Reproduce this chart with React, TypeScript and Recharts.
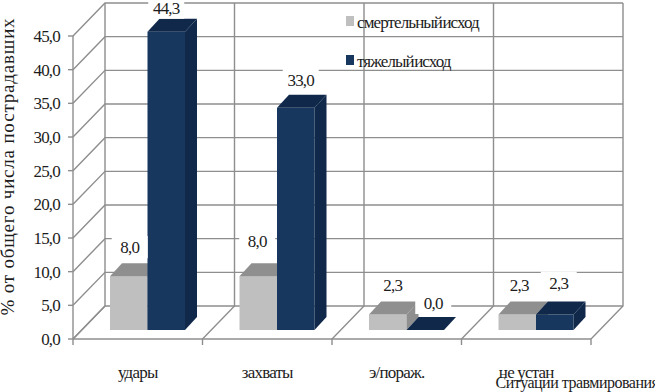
import React from "react";
import { BarChart, Bar, XAxis, YAxis, CartesianGrid, Legend, LabelList } from "recharts";

const categories = ["удары", "захваты", "э/пораж.", "не устан"];
const fatal = [8.0, 8.0, 2.3, 2.3];
const severe = [44.3, 33.0, 0.0, 2.3];
const yTicks = [0, 5, 10, 15, 20, 25, 30, 35, 40, 45];
const fatalName = "смертельный исход";
const severeName = "тяжелый исход";
const xTitle = "Ситуации травмирования";
const yTitle = "% от общего числа пострадавших";

const data = categories.map((c, i) => ({ c, fatal: fatal[i], severe: severe[i] }));

const FONT = "'Liberation Serif', serif";
const GRID = "#8e8e8e";
const TEXT = "#1c1c1c";
const WALL_DX = 32;
const WALL_DY = -33;
const BAR_DX = 10;
const BAR_DY = -9;
const DEPTH_X = 12;
const DEPTH_Y = -13;

const fmt = (v: number) => v.toFixed(1).replace(".", ",");

const HLine = (p: any) => (
  <polyline
    points={`${p.x1},${p.y1} ${p.x1 + WALL_DX},${p.y1 + WALL_DY} ${p.x2 + WALL_DX},${p.y2 + WALL_DY}`}
    fill="none"
    stroke={GRID}
    strokeWidth={1.4}
  />
);

const VLine = (p: any) => (
  <g stroke={GRID} strokeWidth={1.4} fill="none">
    <polyline
      points={`${p.x1},${p.y2 + 6} ${p.x1},${p.y2} ${p.x1 + WALL_DX},${p.y2 + WALL_DY} ${p.x1 + WALL_DX},${p.y1 + WALL_DY}`}
    />
  </g>
);

const box = (front: string, top: string, side: string) => (p: any) => {
  const x = p.x + BAR_DX;
  const y = p.y + BAR_DY;
  const w = p.width;
  const h = p.height;
  return (
    <g>
      {h > 0 && <rect x={x} y={y} width={w} height={h} fill={front} />}
      <polygon
        points={`${x},${y} ${x + DEPTH_X},${y + DEPTH_Y} ${x + w + DEPTH_X},${y + DEPTH_Y} ${x + w},${y}`}
        fill={top}
      />
      {h > 0 && (
        <polygon
          points={`${x + w},${y} ${x + w + DEPTH_X},${y + DEPTH_Y} ${x + w + DEPTH_X},${y + h + DEPTH_Y} ${x + w},${y + h}`}
          fill={side}
        />
      )}
    </g>
  );
};

const fatalNudge = [
  [1, -29],
  [-1, -35],
  [5, -30],
  [2, -30],
];
const severeNudge = [
  [0, -24],
  [5, -28],
  [8, -27],
  [4, -32],
];

const valueLabel = (nudge: number[][]) => (p: any) => {
  const [nx, ny] = nudge[p.index];
  const cx = p.x + BAR_DX + p.width / 2 + nx;
  const cy = p.y + BAR_DY + ny;
  return (
    <g>
      <rect x={cx - 18} y={cy - 11} width={36} height={22} fill="#fff" />
      <text x={cx} y={cy + 6} textAnchor="middle" fontFamily={FONT} fontSize={17} letterSpacing={-0.8} fill={TEXT}>
        {fmt(p.value)}
      </text>
    </g>
  );
};

const legendRows = (props: any) => (
  <div style={{ fontFamily: FONT, fontSize: 17, letterSpacing: -0.9, color: TEXT, lineHeight: "18px" }}>
    {(props.payload || []).map((e: any, i: number) => (
      <div key={i} style={{ position: "absolute", left: 0, top: i * 39, whiteSpace: "nowrap" }}>
        <span
          style={{
            position: "absolute",
            left: 0,
            top: 2,
            width: 8,
            height: 10,
            background: e.color,
          }}
        />
        <span style={{ position: "absolute", left: 11, top: 0, wordSpacing: -3 }}>{e.value}</span>
      </div>
    ))}
  </div>
);

const boxFatal = box("#bfbfbf", "#8f8f8f", "#8f8f8f");
const boxSevere = box("#17375e", "#10294b", "#10294b");

const tickStyle = { fontFamily: FONT, fontSize: 17, letterSpacing: -0.8, fill: TEXT };

export default function App() {
  return (
    <div style={{ position: "absolute", left: 0, top: 0, width: 655, height: 392, overflow: "hidden" }}>
      <BarChart
        width={655}
        height={392}
        data={data}
        margin={{ top: 36, right: 64, bottom: 0, left: 0 }}
        barCategoryGap="42%"
        barGap={0}
      >
        <CartesianGrid
          horizontal={(p: any) => <HLine key={p.key} {...p} />}
          vertical={(p: any) => <VLine key={p.key} {...p} />}
          verticalCoordinatesGenerator={({ offset }: any) =>
            [0, 1, 2, 3, 4].map((i) => offset.left + (offset.width * i) / categories.length)
          }
        />
        <XAxis
          dataKey="c"
          height={53}
          axisLine={{ stroke: GRID, strokeWidth: 1.4 }}
          tickLine={false}
          tickMargin={21}
          tick={tickStyle}
          label={{
            value: xTitle,
            position: "insideBottom",
            dx: 245,
            dy: 1,
            style: { fontFamily: FONT, fontSize: 16, letterSpacing: -0.5, fill: TEXT },
          }}
        />
        <YAxis
          width={73}
          domain={[0, 45]}
          ticks={yTicks}
          interval={0}
          tickFormatter={fmt}
          axisLine={{ stroke: GRID, strokeWidth: 1.4 }}
          tickLine={{ stroke: GRID, strokeWidth: 1.4 }}
          tickSize={5}
          tickMargin={8}
          tick={tickStyle}
          label={{
            value: yTitle,
            angle: -90,
            position: "insideLeft",
            dx: 2,
            dy: 128,
            style: { fontFamily: FONT, fontSize: 19, letterSpacing: 0.8, fill: TEXT },
          }}
        />
        <Legend
          layout="horizontal"
          align="center"
          verticalAlign="middle"
          wrapperStyle={{ position: "absolute", left: 346, top: 14, bottom: "auto", width: 150 }}
          content={legendRows}
        />
        <Bar dataKey="fatal" name={fatalName} fill="#bfbfbf" barSize={37.5} isAnimationActive={false} shape={boxFatal}>
          <LabelList dataKey="fatal" content={valueLabel(fatalNudge)} />
        </Bar>
        <Bar dataKey="severe" name={severeName} fill="#17375e" barSize={37.5} isAnimationActive={false} shape={boxSevere}>
          <LabelList dataKey="severe" content={valueLabel(severeNudge)} />
        </Bar>
      </BarChart>
    </div>
  );
}
